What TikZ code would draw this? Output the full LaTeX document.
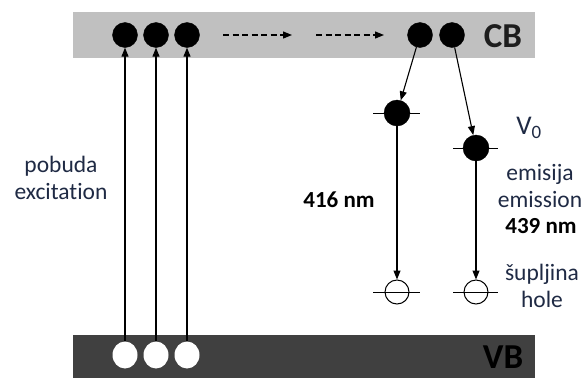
\documentclass[tikz,border=0pt]{standalone}
\usepackage{fontspec}
\setmainfont{Carlito}[Ligatures={NoCommon}]
\usetikzlibrary{arrows.meta,shapes.geometric}
\definecolor{cbgray}{HTML}{C0C0C0}
\definecolor{vbgray}{HTML}{404040}
\definecolor{txt}{HTML}{1F2A44}
\tikzset{
  band/.style={inner sep=0pt, outer sep=0pt, draw=none},
  elec/.style={circle, fill=black, draw=black, inner sep=0pt, minimum size=25pt},
  lvlelec/.style={circle, fill=black, draw=black, inner sep=0pt, minimum size=26pt},
  vbhole/.style={ellipse, fill=white, draw=none, inner sep=0pt, minimum width=25pt, minimum height=27pt},
  hollow/.style={circle, fill=white, draw=black, line width=1pt, inner sep=0pt, minimum size=24pt},
  arr/.style={line width=1.1pt, -{Triangle[length=9pt,width=7pt]}},
  darr/.style={line width=1.2pt, dash pattern=on 6pt off 3.5pt, -{Triangle[length=9pt,width=7pt]}},
  tick/.style={line width=1pt},
  lbl/.style={text=txt, font=\fontsize{23.5}{27}\selectfont, align=center, inner sep=0pt},
  blbl/.style={text=black, font=\fontsize{23}{27}\selectfont\bfseries, align=center, inner sep=0pt},
  bandlbl/.style={font=\fontsize{35}{40}\selectfont\bfseries, inner sep=0pt}
}
\begin{document}
\begin{tikzpicture}[x=1pt,y=-1pt]
\useasboundingbox (0,0) rectangle (588,378);
% bands
\node[band, fill=cbgray, minimum width=462pt, minimum height=46pt] (cb) at (304,35) {};
\node[band, fill=vbgray, minimum width=462pt, minimum height=43pt] (vb) at (304,356.5) {};
\node[bandlbl, text=black!85!cbgray] (cbl) at (503,36) {CB};
\node[bandlbl, text=black] (vbl) at (503,357) {VB};
% CB electrons
\node[elec] (e1) at (125,35) {};
\node[elec] (e2) at (156,35) {};
\node[elec] (e3) at (187,35) {};
\node[elec] (e4) at (420,35) {};
\node[elec] (e5) at (452,35) {};
% VB holes
\node[vbhole] (h1) at (125,355) {};
\node[vbhole] (h2) at (156,355) {};
\node[vbhole] (h3) at (187,355) {};
% excitation arrows
\draw[arr] (h1.north) -- (e1.south);
\draw[arr] (h2.north) -- (e2.south);
\draw[arr] (h3.north) -- (e3.south);
% dashed relaxation arrows
\coordinate (d1a) at (223,35);
\coordinate (d1b) at (292,35);
\coordinate (d2a) at (316,35);
\coordinate (d2b) at (384,35);
\draw[darr] (d1a) -- (d1b);
\draw[darr] (d2a) -- (d2b);
% trap levels
\coordinate (t1a) at (373,113);
\coordinate (t1b) at (420,113);
\coordinate (t2a) at (453,148);
\coordinate (t2b) at (498,148);
\draw[tick] (t1a) -- (t1b);
\draw[tick] (t2a) -- (t2b);
\node[lvlelec] (m1) at (397,113) {};
\node[lvlelec] (m2) at (476,148) {};
\draw[arr] (e4) -- (m1);
\draw[arr] (e5) -- (m2);
% holes levels
\node[hollow] (p1) at (397,292) {};
\node[hollow] (p2) at (476,292) {};
\coordinate (u1a) at (373,292);
\coordinate (u1b) at (420,292);
\coordinate (u2a) at (453,292);
\coordinate (u2b) at (498,292);
\draw[tick] (u1a) -- (u1b);
\draw[tick] (u2a) -- (u2b);
\draw[arr] (m1.south) -- (p1.north);
\draw[arr] (m2.south) -- (p2.north);
% labels
\node[lbl] (exc) at (61,178) {pobuda\\excitation};
\node[blbl] (w1) at (339,200) {416 nm};
\node[lbl, font=\fontsize{27}{30}\selectfont] (v0) at (529,128) {V\textsubscript{0}};
\node[lbl] (em) at (540,186) {emisija\\emission};
\node[blbl] (w2) at (541,226) {439 nm};
\node[lbl] (hl) at (542,286) {šupljina\\hole};
\end{tikzpicture}
\end{document}
